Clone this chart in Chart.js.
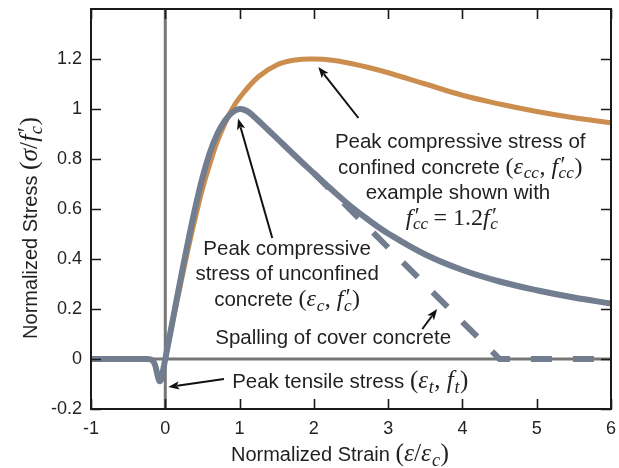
<!DOCTYPE html>
<html>
<head>
<meta charset="utf-8">
<script src="https://cdn.jsdelivr.net/npm/chart.js@4"></script>
<style>
  html, body { margin: 0; padding: 0; background: #ffffff; }
  #wrap { width: 619px; height: 468px; }
</style>
</head>
<body>
<div id="wrap"><canvas id="c" width="619" height="468"></canvas></div>
<script>
// ---------- data ----------
const strainUnconfined = [-1, -0.5, -0.25, -0.18, -0.14, -0.11, -0.08, -0.06, -0.04, -0.02, 0,
  0.1, 0.2, 0.3, 0.4, 0.5, 0.6, 0.7, 0.8, 0.9, 1.0, 1.1, 1.2, 1.4, 1.6, 1.8, 2.0,
  2.25, 2.5, 2.75, 3.0, 3.5, 4.0, 4.5, 5.0, 5.5, 6.0];
const stressUnconfined = [0, 0, 0, -0.004, -0.022, -0.058, -0.088, -0.085, -0.06, -0.03, 0,
  0.155, 0.31, 0.46, 0.6, 0.725, 0.825, 0.9, 0.952, 0.986, 1.0, 0.992, 0.968, 0.912, 0.855, 0.798, 0.743,
  0.675, 0.61, 0.553, 0.502, 0.418, 0.356, 0.31, 0.275, 0.246, 0.222];

const strainConfined = [0, 0.1, 0.2, 0.3, 0.4, 0.5, 0.6, 0.7, 0.8, 0.9, 1.0, 1.25, 1.5, 1.75,
  2.0, 2.25, 2.5, 2.75, 3.0, 3.5, 4.0, 4.5, 5.0, 5.5, 6.0];
const stressConfined = [0, 0.15, 0.29, 0.43, 0.56, 0.68, 0.78, 0.87, 0.94, 1.0, 1.045, 1.128, 1.176, 1.196,
  1.2, 1.195, 1.182, 1.165, 1.145, 1.1, 1.055, 1.02, 0.99, 0.965, 0.945];

const strainSpalling = [2.0, 4.5, 6.0];
const stressSpalling = [0.743, 0, 0];

const xTickValues = [-1, 0, 1, 2, 3, 4, 5, 6];
const xTickLabels = ['-1', '0', '1', '2', '3', '4', '5', '6'];
const yTickValues = [-0.2, 0, 0.2, 0.4, 0.6, 0.8, 1.0, 1.2];
const yTickLabels = ['-0.2', '0', '0.2', '0.4', '0.6', '0.8', '1', '1.2'];

const xRange = [-1, 6];
const yRange = [-0.2, 1.4];

// ---------- styles ----------
const GRAY = 'rgb(114,125,143)';
const ORANGE = 'rgb(203,142,78)';
const AXISGRAY = 'rgb(118,118,118)';
const INK = '#231f20';
const SANS = "'Liberation Sans', Arial, Helvetica, sans-serif";
const SERIF = "'Liberation Serif', 'DejaVu Serif', 'Times New Roman', serif";

function pts(xs, ys) { return xs.map((x, i) => ({ x: x, y: ys[i] })); }

// ---------- rich text helper (sans text + serif math with sub/superscripts) ----------
function partFont(f, S, M) {
  if (f === 's') return S + 'px ' + SANS;
  if (f === 'r') return M + 'px ' + SERIF;
  if (f === 'i') return 'italic ' + M + 'px ' + SERIF;
  return 'italic ' + (0.72 * M) + 'px ' + SERIF; // 'b' subscript, 'q' prime+subscript
}
function layoutRich(ctx, segs, S, M) {
  let x = 0;
  const items = [];
  segs.forEach(([t, f]) => {
    ctx.font = partFont(f, S, M);
    const w = ctx.measureText(t).width;
    if (f === 'b') {
      items.push({ t, font: ctx.font, x: x + 0.03 * M, dy: 0.2 * M });
      x += 0.03 * M + w + 0.02 * M;
    } else if (f === 'q') {
      const subFont = ctx.font;
      ctx.font = (0.95 * M) + 'px ' + SERIF;
      const pw = ctx.measureText('\u2032').width;
      items.push({ t: '\u2032', font: ctx.font, x: x + 0.1 * M, dy: -0.08 * M });
      items.push({ t, font: subFont, x: x + 0.02 * M, dy: 0.2 * M });
      x += Math.max(0.02 * M + w, 0.1 * M + pw) + 0.02 * M;
    } else {
      items.push({ t, font: ctx.font, x: x, dy: 0 });
      x += w;
    }
  });
  return { items, width: x };
}
function drawRich(ctx, segs, x, y, align, S, M) {
  const L = layoutRich(ctx, segs, S, M);
  const x0 = align === 'center' ? x - L.width / 2 : x;
  ctx.save();
  ctx.fillStyle = INK;
  ctx.textBaseline = 'alphabetic';
  ctx.textAlign = 'left';
  L.items.forEach(it => {
    ctx.font = it.font;
    ctx.fillText(it.t, x0 + it.x, y + it.dy);
  });
  ctx.restore();
}

function arrow(ctx, x1, y1, x2, y2) {
  const ang = Math.atan2(y2 - y1, x2 - x1);
  const L = 11, W = 4.2;
  const bx = x2 - L * Math.cos(ang), by = y2 - L * Math.sin(ang);
  ctx.save();
  ctx.strokeStyle = '#111';
  ctx.fillStyle = '#111';
  ctx.lineWidth = 2;
  ctx.beginPath();
  ctx.moveTo(x1, y1);
  ctx.lineTo(bx + 2 * Math.cos(ang), by + 2 * Math.sin(ang));
  ctx.stroke();
  ctx.beginPath();
  ctx.moveTo(x2, y2);
  ctx.lineTo(bx - W * Math.sin(ang), by + W * Math.cos(ang));
  ctx.lineTo(bx + 2.5 * Math.cos(ang), by + 2.5 * Math.sin(ang));
  ctx.lineTo(bx + W * Math.sin(ang), by - W * Math.cos(ang));
  ctx.closePath();
  ctx.fill();
  ctx.restore();
}

// ---------- frame, inward ticks, annotations ----------
const decorPlugin = {
  id: 'decor',
  afterDatasetsDraw(chart) {
    const ctx = chart.ctx, a = chart.chartArea;
    const xs = chart.scales.x, ys = chart.scales.y;
    ctx.save();
    ctx.strokeStyle = '#1a1a1a';
    ctx.lineWidth = 1.6;
    xTickValues.forEach(v => {
      const p = Math.round(xs.getPixelForValue(v)) + 0.5;
      ctx.beginPath();
      ctx.moveTo(p, a.bottom); ctx.lineTo(p, a.bottom - 10);
      ctx.moveTo(p, a.top); ctx.lineTo(p, a.top + 10);
      ctx.stroke();
    });
    yTickValues.forEach(v => {
      const p = Math.round(ys.getPixelForValue(v)) + 0.5;
      ctx.beginPath();
      ctx.moveTo(a.left, p); ctx.lineTo(a.left + 10, p);
      ctx.moveTo(a.right, p); ctx.lineTo(a.right - 10, p);
      ctx.stroke();
    });
    ctx.lineWidth = 2;
    ctx.strokeRect(a.left, a.top, a.right - a.left, a.bottom - a.top);
    ctx.restore();
  },
  afterDraw(chart) {
    const ctx = chart.ctx;
    const xs = chart.scales.x, ys = chart.scales.y;
    const X = v => xs.getPixelForValue(v), Y = v => ys.getPixelForValue(v);
    const S = 20.5, M = 24;

    // arrows (data coordinates)
    arrow(ctx, X(2.60), Y(0.964), X(2.06), Y(1.168));
    arrow(ctx, X(1.44), Y(0.484), X(0.98), Y(0.962));
    arrow(ctx, X(3.46), Y(0.12), X(3.66), Y(0.2));
    arrow(ctx, X(0.79), Y(-0.08), X(0.04), Y(-0.112));

    // confined concrete annotation
    drawRich(ctx, [['Peak compressive stress of', 's']], X(3.97), Y(0.844), 'center', S, M);
    drawRich(ctx, [['confined concrete ', 's'], ['(', 'r'], ['\u03b5', 'i'], ['cc', 'b'], [', ', 'r'],
      ['f', 'i'], ['cc', 'q'], [')', 'r']], X(3.97), Y(0.742), 'center', S, M);
    drawRich(ctx, [['example shown with', 's']], X(3.94), Y(0.64), 'center', S, M);
    drawRich(ctx, [['f', 'i'], ['cc', 'q'], ['\u2009= 1.2', 'r'], ['f', 'i'], ['c', 'q']], X(3.86), Y(0.538), 'center', S, M);

    // unconfined concrete annotation
    drawRich(ctx, [['Peak compressive', 's']], X(1.64), Y(0.416), 'center', S, M);
    drawRich(ctx, [['stress of unconfined', 's']], X(1.64), Y(0.316), 'center', S, M);
    drawRich(ctx, [['concrete ', 's'], ['(', 'r'], ['\u03b5', 'i'], ['c', 'b'], [', ', 'r'],
      ['f', 'i'], ['c', 'q'], [')', 'r']], X(1.64), Y(0.212), 'center', S, M);

    // spalling
    drawRich(ctx, [['Spalling of cover concrete', 's']], X(2.26), Y(0.06), 'center', S, M);

    // tensile
    drawRich(ctx, [['Peak tensile stress ', 's'], ['(', 'r'], ['\u03b5', 'i'], ['t', 'b'], [', ', 'r'],
      ['f', 'i'], ['t', 'b'], [')', 'r']], X(0.90), Y(-0.116), 'left', S, 25);

    // axis titles
    drawRich(ctx, [['Normalized Strain ', 's'], ['(', 'r'], ['\u03b5', 'i'], ['/', 'r'], ['\u03b5', 'i'],
      ['c', 'b'], [')', 'r']], 340, 461, 'center', 20, 25.5);
    ctx.save();
    ctx.translate(37, 228);
    ctx.rotate(-Math.PI / 2);
    drawRich(ctx, [['Normalized Stress ', 's'], ['(', 'r'], ['\u03c3', 'i'], ['/', 'r'], ['f', 'i'],
      ['c', 'q'], [')', 'r']], 0, 0, 'center', 20, 25.5);
    ctx.restore();
  }
};

const lineBase = { showLine: true, pointRadius: 0, pointHoverRadius: 0, fill: false };

new Chart(document.getElementById('c'), {
  type: 'scatter',
  data: {
    datasets: [
      Object.assign({}, lineBase, {
        label: 'Spalling', data: pts(strainSpalling, stressSpalling),
        borderColor: GRAY, borderWidth: 6, borderDash: [21, 21], borderCapStyle: 'butt', order: 1
      }),
      Object.assign({}, lineBase, {
        label: 'Unconfined', data: pts(strainUnconfined, stressUnconfined),
        borderColor: GRAY, borderWidth: 6, tension: 0.4, order: 2
      }),
      Object.assign({}, lineBase, {
        label: 'Confined', data: pts(strainConfined, stressConfined),
        borderColor: ORANGE, borderWidth: 5, tension: 0.4, order: 3
      }),
      Object.assign({}, lineBase, {
        label: 'zero-x', data: [{ x: xRange[0], y: 0 }, { x: xRange[1], y: 0 }],
        borderColor: AXISGRAY, borderWidth: 3, order: 4
      }),
      Object.assign({}, lineBase, {
        label: 'zero-y', data: [{ x: 0, y: yRange[0] }, { x: 0, y: yRange[1] }],
        borderColor: AXISGRAY, borderWidth: 3, order: 5
      })
    ]
  },
  options: {
    responsive: false,
    animation: false,
    events: [],
    layout: { padding: { top: 9, right: 8, left: 0, bottom: 0 } },
    plugins: { legend: { display: false }, tooltip: { enabled: false } },
    scales: {
      x: {
        type: 'linear', min: xRange[0], max: xRange[1],
        grid: { display: false, drawTicks: false }, border: { display: false },
        afterBuildTicks(s) { s.ticks = xTickValues.map(v => ({ value: v })); },
        afterFit(s) { s.height = 59; s.paddingLeft = 0; s.paddingRight = 0; },
        ticks: {
          font: { family: SANS, size: 18 }, color: INK, padding: 9, maxRotation: 0,
          callback: (v) => xTickLabels[xTickValues.indexOf(v)]
        }
      },
      y: {
        type: 'linear', min: yRange[0], max: yRange[1],
        grid: { display: false, drawTicks: false }, border: { display: false },
        afterBuildTicks(s) { s.ticks = yTickValues.map(v => ({ value: v })); },
        afterFit(s) { s.width = 91; s.paddingTop = 0; s.paddingBottom = 0; },
        ticks: {
          font: { family: SANS, size: 18 }, color: INK, padding: 9,
          callback: (v) => yTickLabels[yTickValues.indexOf(v)]
        }
      }
    }
  },
  plugins: [decorPlugin]
});
</script>
</body>
</html>
